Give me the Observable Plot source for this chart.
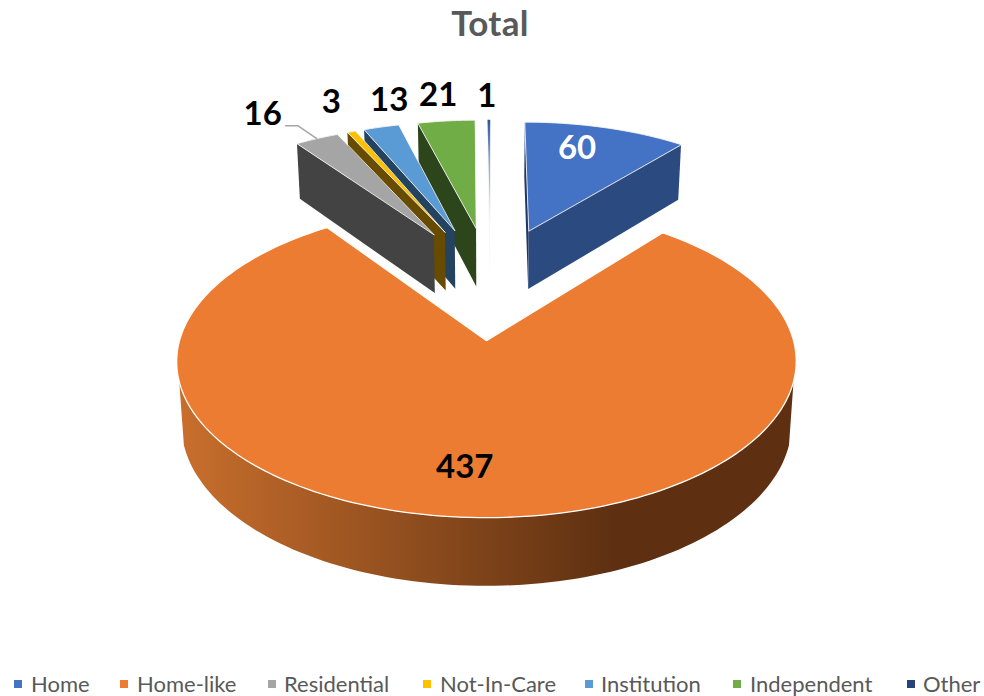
<!DOCTYPE html>
<html>
<head>
<meta charset="utf-8">
<script src="https://cdn.jsdelivr.net/npm/d3@7"></script>
<script src="https://cdn.jsdelivr.net/npm/@observablehq/plot@0.6"></script>
<style>
  html, body { margin: 0; padding: 0; background: #fff; width: 984px; height: 696px; overflow: hidden; font-family: Lato, "Open Sans", sans-serif; }
  #title { height: 46px; line-height: 44px; text-align: center; font-size: 35px; font-weight: 700; color: #595959; letter-spacing: 0.3px; box-sizing: border-box; padding-right: 4px; }
  #chart svg { display: block; }
  #legend { position: relative; height: 40px; color: #595959; font-size: 22px; }
  #legend .sw { position: absolute; width: 8px; height: 8px; top: 24px; }
  #legend .tx { position: absolute; top: 14px; line-height: 28px; white-space: nowrap; }
</style>
</head>
<body>
<div id="title">Total</div>
<div id="chart"></div>
<div id="legend"></div>
<script>
// Data
const categories = ["Home", "Home-like", "Residential", "Not-In-Care", "Institution", "Independent", "Other"];
const values = [60, 437, 16, 3, 13, 21, 1];
// Styles
const legendColors = ["#4472c4", "#eb7c31", "#a5a5a5", "#ffc000", "#5b9bd5", "#70ad47", "#264478"];
const topColors = ["#4472c4", "#eb7c31", "#a5a5a5", "#ffc000", "#5b9bd5", "#70ad47", "url(#otherTop)"];
const sideColors = ["#2a4a80", "url(#orangeSide)", "#434343", "#664b00", "#24435f", "#2c451b", "#f6f7f9"];
// Layout
const legendSwatchX = [14, 120, 268, 423, 585, 733, 907];
const legendTextX = [31, 137, 284, 440, 601, 750, 923];
const labelNudge = [[-29, 21], [-9, -50], [-54, -24], [-20, -29], [8, -27], [-8, -26], [-2, -23]];
const labelColors = ["#fff", "#000", "#000", "#000", "#000", "#000", "#000"];
const explode = 0.407, cx = 490.3, rimOuter = 0.965;
const W = 984, H = 610, yTop = 46;
const wallStart = 105, wallEnd = 255; // part of the Home-like rim whose wall faces the viewer

const rad = d => d * Math.PI / 180;
const total = d3.sum(values);
let acc = 0;
const slices = categories.map((name, i) => {
  const start = acc / total * 360;
  acc += values[i];
  const end = acc / total * 360;
  const mid = (start + end) / 2;
  return {
    name, i, start, end, mid, value: values[i],
    r: i === 1 ? 1 : rimOuter,
    ax: explode * Math.sin(rad(mid)),
    ay: explode * Math.cos(rad(mid))
  };
});

// Perspective projection of the pie's top and bottom planes
function topP(X, Y) {
  const s = 1 / (1.054 + 0.133 * Y);
  return { x: cx + 307 * X * s, y: -814 + 1154 * s, s };
}
function botP(X, Y) {
  const p = topP(X, Y);
  return { x: cx + 0.985 * (p.x - cx), y: p.y + 22 + 40 * p.s };
}
const rimWorld = (sl, t) => [sl.ax + sl.r * Math.sin(rad(t)), sl.ay + sl.r * Math.cos(rad(t))];
const apexTop = sl => topP(sl.ax, sl.ay);
const apexBot = sl => botP(sl.ax, sl.ay);
const sweep = (a, b) => { const n = Math.max(2, Math.ceil((b - a) / 1.5)); return d3.range(n + 1).map(j => a + (b - a) * j / n); };

const topFace = sl => [apexTop(sl), ...sweep(sl.start, sl.end).map(t => topP(...rimWorld(sl, t)))];
const radialFace = (sl, t) => [apexTop(sl), topP(...rimWorld(sl, t)), botP(...rimWorld(sl, t)), apexBot(sl)];
const outerFace = (sl, a, b) => {
  const ts = sweep(a, b);
  return [...ts.map(t => topP(...rimWorld(sl, t))), ...ts.slice().reverse().map(t => botP(...rimWorld(sl, t)))];
};

const poly = (pts, fill, extra = {}) => Plot.line(pts, { x: "x", y: "y", fill, stroke: "none", curve: "linear-closed", ...extra });
const edge = { stroke: "#f4f4f4", strokeWidth: 1, strokeOpacity: 0.85 };

const gradients = () => {
  const defs = d3.create("svg:defs");
  const g = defs.append("linearGradient").attr("id", "orangeSide")
    .attr("gradientUnits", "userSpaceOnUse")
    .attr("x1", 176).attr("x2", 612).attr("y1", 0).attr("y2", 0);
  g.append("stop").attr("offset", "0%").attr("stop-color", "#c96f2d");
  g.append("stop").attr("offset", "100%").attr("stop-color", "#5e3011");
  const o = defs.append("linearGradient").attr("id", "otherTop")
    .attr("x1", 0).attr("x2", 0).attr("y1", 0).attr("y2", 1);
  o.append("stop").attr("offset", "0%").attr("stop-color", "#2f5597");
  o.append("stop").attr("offset", "35%").attr("stop-color", "#8fa3c4");
  o.append("stop").attr("offset", "100%").attr("stop-color", "#e4e6ea");
  return defs.node();
};

const marks = [gradients];

// small slices, far-right one first so that the left ones overlap it
[6, 5, 4, 3, 2].forEach(i => {
  const sl = slices[i];
  marks.push(poly(radialFace(sl, sl.start), sideColors[i]));
  marks.push(poly(topFace(sl), topColors[i], i === 6 ? {} : edge));
});
// Home slice
{
  const sl = slices[0];
  marks.push(poly(radialFace(sl, sl.start), "#1f3864"));
  marks.push(poly(radialFace(sl, sl.end), sideColors[0]));
  marks.push(poly(topFace(sl), topColors[0], edge));
}
// Home-like slice
{
  const sl = slices[1];
  marks.push(poly(outerFace(sl, wallStart, wallEnd), sideColors[1]));
  marks.push(poly(topFace(sl), topColors[1], { stroke: "#fff", strokeWidth: 1.3 }));
}

// Labels
const labels = slices.map(sl => {
  const p = topP(...rimWorld(sl, sl.mid));
  return { x: p.x + labelNudge[sl.i][0], y: p.y + labelNudge[sl.i][1], text: String(sl.value), color: labelColors[sl.i], rx: p.x, ry: p.y };
});
const res = labels[2];
const leader = [
  { x: res.x + 23, y: res.y + 11 },
  { x: res.x + 35, y: res.y + 11 },
  { x: res.rx, y: res.ry }
];
marks.push(Plot.line(leader, { x: "x", y: "y", stroke: "#a6a6a6", strokeWidth: 1.5 }));
marks.push(Plot.text(labels, {
  x: "x", y: "y", text: "text", fill: "color",
  fontFamily: "Lato, 'Open Sans', sans-serif", fontWeight: 700, fontSize: 33
}));

const chart = Plot.plot({
  width: W, height: H,
  margin: 0,
  x: { domain: [0, W], range: [0, W], axis: null },
  y: { domain: [yTop, yTop + H], range: [0, H], axis: null },
  style: { background: "#fff" },
  marks
});
document.getElementById("chart").appendChild(chart);

// Legend
const legend = d3.select("#legend");
categories.forEach((c, i) => {
  legend.append("span").attr("class", "sw").style("left", legendSwatchX[i] + "px").style("background", legendColors[i]);
  legend.append("span").attr("class", "tx").style("left", legendTextX[i] + "px").text(c);
});
</script>
</body>
</html>
